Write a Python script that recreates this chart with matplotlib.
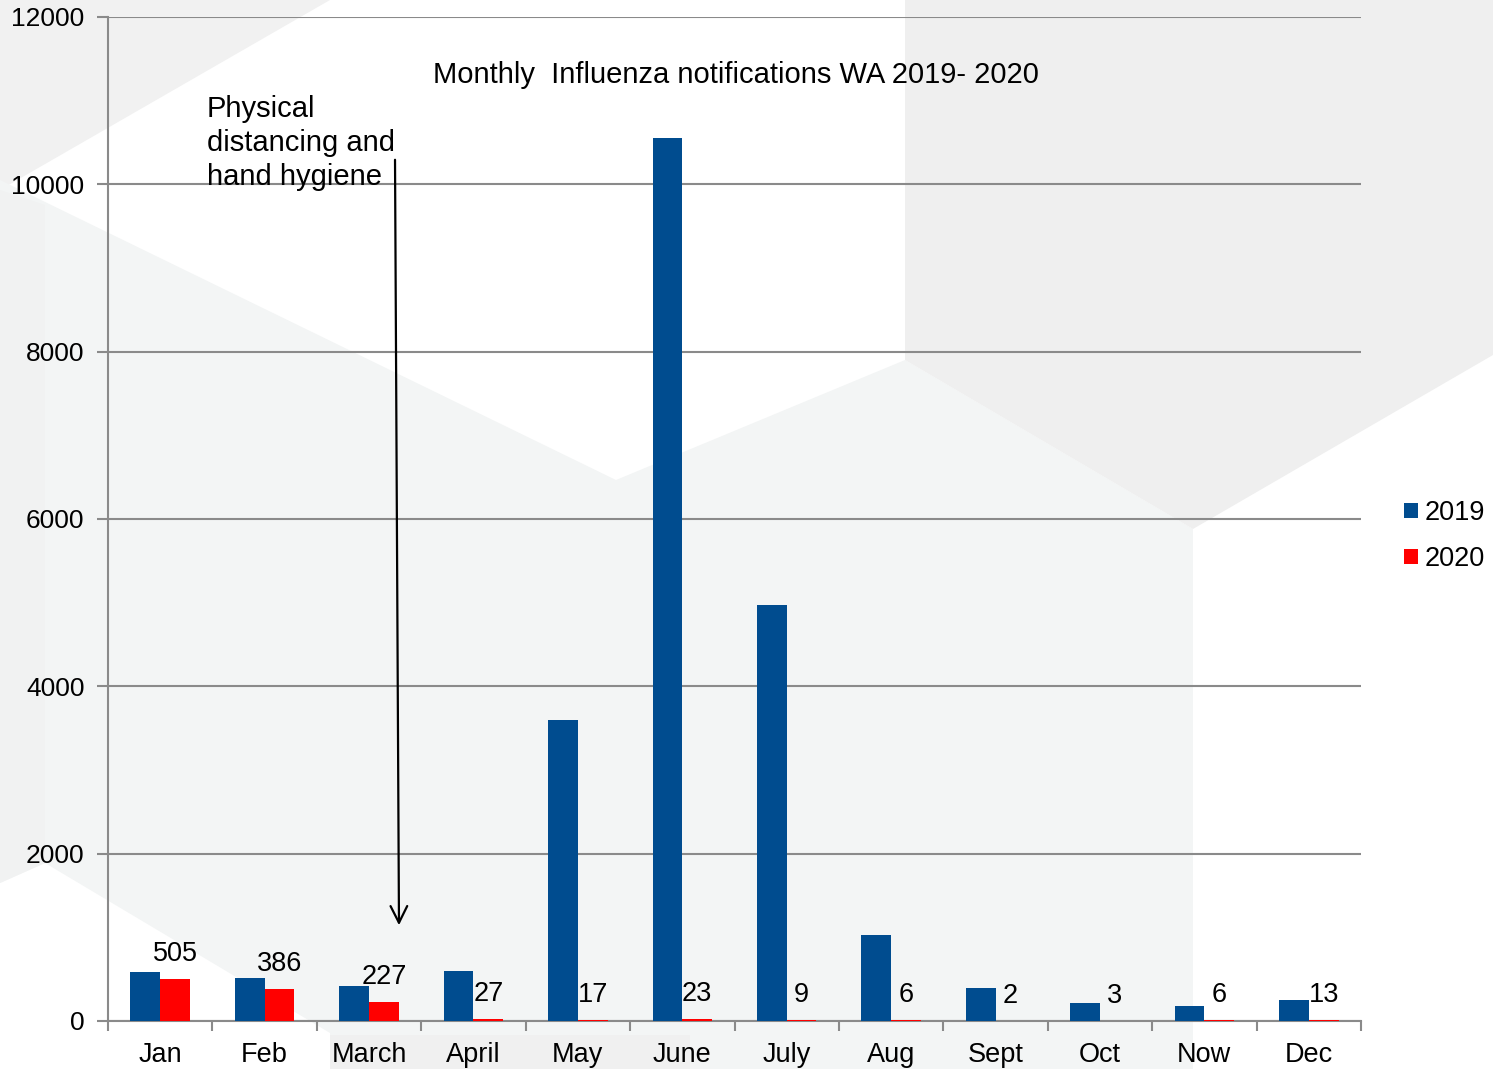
import matplotlib.pyplot as plt
from matplotlib.patches import Polygon
import numpy as np

months = ['Jan', 'Feb', 'March', 'April', 'May', 'June', 'July', 'Aug', 'Sept', 'Oct', 'Now', 'Dec']
flu_2019 = [589, 512, 418, 598, 3597, 10555, 4975, 1030, 398, 215, 179, 255]
flu_2020 = [505, 386, 227, 27, 17, 23, 9, 6, 2, 3, 6, 13]
yticks = [0, 2000, 4000, 6000, 8000, 10000, 12000]

plt.rcParams['font.family'] = ['Liberation Sans', 'DejaVu Sans']

W, H = 1493, 1069
fig = plt.figure(figsize=(W / 100, H / 100), dpi=100)
fig.patch.set_facecolor('white')


def px(points):
  return [(x / W, 1 - y / H) for x, y in points]


# faint hexagon-ish background shapes (slide template)
bg_shapes = [
  ([(0, 0), (330, 0), (0, 190)], '#f1f1f1'),
  ([(0, 180), (616, 480), (905, 360), (1193, 529), (1193, 1069), (330, 1069),
    (330, 1033), (45, 863), (0, 883)], '#f3f5f5'),
  ([(0, 190), (45, 205), (45, 863), (0, 883)], '#f1f2f2'),
  ([(330, 1035), (690, 1035), (690, 1069), (330, 1069)], '#f0f0f0'),
  ([(905, 0), (1493, 0), (1493, 355), (1193, 529), (905, 360)], '#efefef'),
]
for pts, col in bg_shapes:
  fig.patches.append(Polygon(px(pts), closed=True, transform=fig.transFigure,
                             facecolor=col, edgecolor='none', zorder=-10))

ax = fig.add_axes([108 / W, 1 - 1021 / H, (1361 - 108) / W, (1021 - 17) / H])
ax.set_facecolor('none')

x = np.arange(len(months))
bw = 0.285
ax.bar(x - bw / 2, flu_2019, bw, color='#004c8f', label='2019', zorder=3)
ax.bar(x + bw / 2, flu_2020, bw, color='#ff0000', label='2020', zorder=3)

for xi, v in zip(x, flu_2020):
  ax.annotate(str(v), (xi + bw / 2, v), xytext=(0, 18), textcoords='offset points',
              ha='center', va='center', fontsize=19.5, color='black', zorder=4)

ax.set_xlim(-0.5, len(months) - 0.5)
ax.set_ylim(0, 12000)
ax.set_yticks(yticks)
ax.set_yticklabels([str(t) for t in yticks], fontsize=19)
ax.yaxis.grid(True, color='#8a8a8a', linewidth=1.5, zorder=0)
ax.tick_params(axis='y', length=8, width=1.5, color='#8a8a8a', pad=9)

ax.set_xticks(x)
ax.set_xticklabels(months, fontsize=19.5)
ax.set_xticks(np.arange(len(months) + 1) - 0.5, minor=True)
ax.tick_params(axis='x', which='major', length=0, pad=15)
ax.tick_params(axis='x', which='minor', length=7, width=1.5, color='#8a8a8a', direction='out')

for side in ['top', 'right']:
  ax.spines[side].set_visible(False)
for side in ['left', 'bottom']:
  ax.spines[side].set_color('#8a8a8a')
  ax.spines[side].set_linewidth(1.5)

fig.text(736 / W, 1 - 75 / H, 'Monthly  Influenza notifications WA 2019- 2020',
         ha='center', va='center', fontsize=21)

fig.text(207 / W, 1 - 143 / H, 'Physical\ndistancing and\nhand hygiene',
         ha='left', va='center', fontsize=21, linespacing=1.29)

ax.annotate('', xy=(399 / W, 1 - 928 / H), xytext=(395 / W, 1 - 157 / H),
            xycoords='figure fraction', textcoords='figure fraction',
            arrowprops=dict(arrowstyle='->', color='black', lw=1.6, mutation_scale=30))

ax.legend(loc='center left', bbox_to_anchor=(1.026, 0.483), frameon=False, fontsize=19.5,
          handlelength=0.5, handleheight=0.5, handletextpad=0.25, labelspacing=0.75,
          borderaxespad=0)

fig.savefig('out.png', dpi=100)
